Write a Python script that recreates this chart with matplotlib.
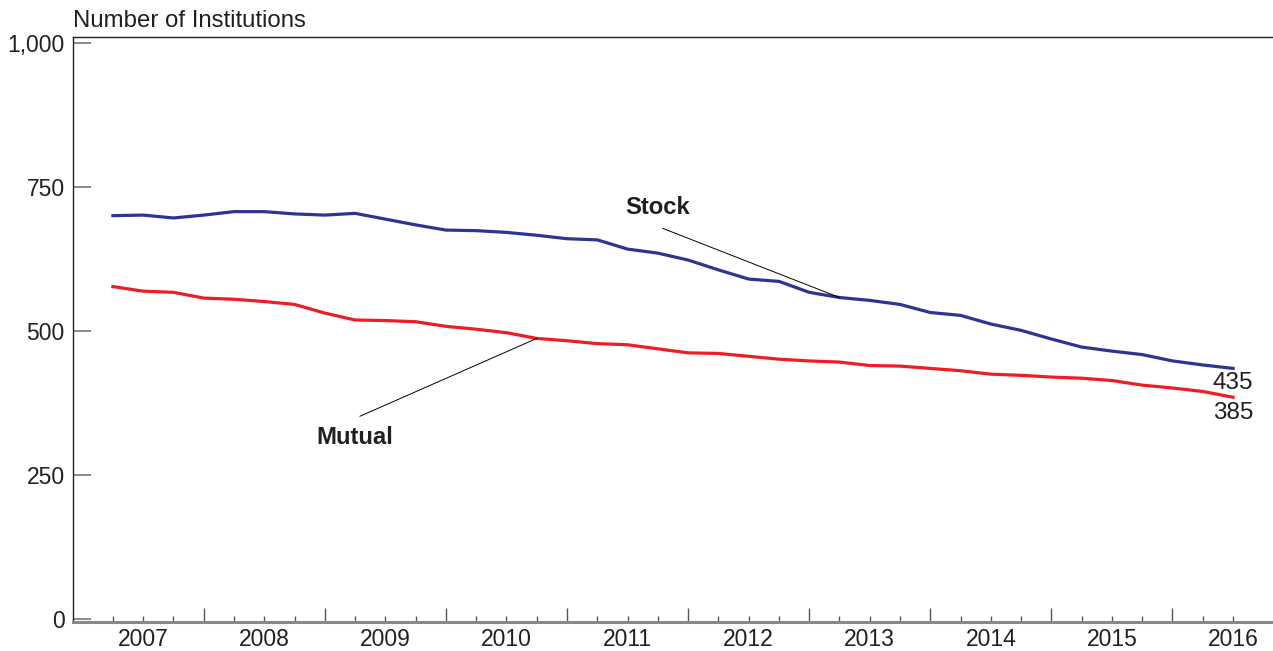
import numpy as np
import matplotlib
matplotlib.use("Agg")
from matplotlib import pyplot as plt

plt.rcParams['font.family'] = ['Liberation Sans', 'DejaVu Sans']

# quarterly, 2007 Q1 .. 2016 Q2
years = [2007, 2008, 2009, 2010, 2011, 2012, 2013, 2014, 2015, 2016]
stock = [700, 701, 696, 701, 707, 707, 703, 701, 704, 694, 684, 675,
         674, 671, 666, 660, 658, 642, 635, 623, 606, 590, 586, 567,
         558, 553, 546, 532, 527, 512, 501, 486, 472, 465, 459, 448,
         441, 435]
mutual = [577, 569, 567, 557, 555, 551, 546, 531, 519, 518, 516, 508,
          503, 497, 487, 483, 478, 476, 469, 462, 461, 456, 451, 448,
          446, 440, 439, 435, 431, 425, 423, 420, 418, 414, 406, 401,
          395, 385]

q = np.arange(len(stock))

fig = plt.figure(figsize=(12.73, 6.51), dpi=100)
ax = fig.add_axes([0.0573, 0.0445, 0.9427, 0.8987])

ax.plot(q, stock, color='#2B3593', lw=2.3, solid_joinstyle='round')
ax.plot(q, mutual, color='#EE1C25', lw=2.3, solid_joinstyle='round')

ax.set_xlim(-1.32, 38.32)
ax.set_ylim(-5, 1010)

# end values
ax.text(37, 410, str(stock[-1]), ha='center', va='center', fontsize=17.5, color='#231F20')
ax.text(37, 358, str(mutual[-1]), ha='center', va='center', fontsize=17.5, color='#231F20')

# series labels with leader lines
ax.plot([18.16, 24], [678, stock[24]], color='black', lw=0.7)
ax.text(18, 715, 'Stock', ha='center', va='center', fontsize=17.2, fontweight='bold', color='#231F20')
ax.plot([8.16, 14], [352, mutual[14]], color='black', lw=0.7)
ax.text(8, 316, 'Mutual', ha='center', va='center', fontsize=17.2, fontweight='bold', color='#231F20')

# y axis
ax.set_yticks([0, 250, 500, 750, 1000])
ax.set_yticklabels(['0', '250', '500', '750', '1,000'])
ax.tick_params(axis='y', direction='in', length=13, width=1.2, color='#777777',
               labelsize=16.5, labelcolor='#231F20', pad=6)

# x axis: year boundaries major, quarters minor, labels centred on the year
ax.set_xticks([-1 + 4 * k for k in range(1, 10)])
ax.set_xticks([k for k in range(38) if (k + 1) % 4 != 0], minor=True)
ax.set_xticklabels([])
ax.tick_params(axis='x', which='major', direction='in', length=10, width=1.0, color='#555555')
ax.tick_params(axis='x', which='minor', direction='in', length=4.5, width=1.0, color='#555555')
for k, yr in enumerate(years):
    ax.text(1 + 4 * k, -0.011, str(yr), transform=ax.get_xaxis_transform(),
            ha='center', va='top', fontsize=16.5, color='#231F20')

for s in ['left', 'top']:
    ax.spines[s].set_color('#231F20')
    ax.spines[s].set_linewidth(1.0)
ax.spines['right'].set_visible(False)
ax.spines['bottom'].set_color('#888888')
ax.spines['bottom'].set_linewidth(2.2)

fig.text(0.0573, 0.968, 'Number of Institutions', ha='left', va='center',
         fontsize=17.3, color='#231F20')

plt.savefig('out.png', dpi=100)
